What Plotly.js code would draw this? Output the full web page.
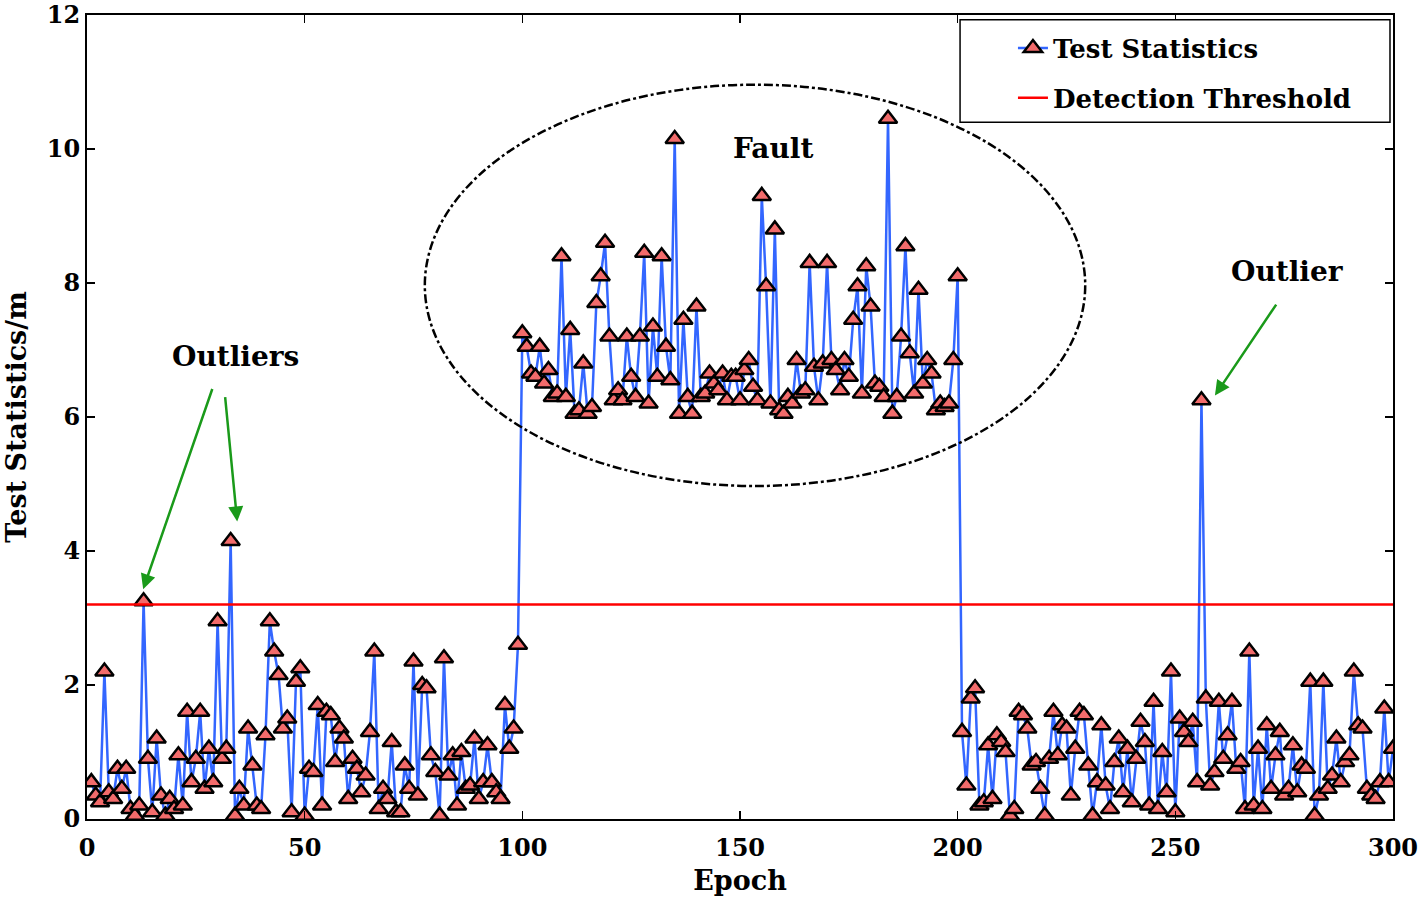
<!DOCTYPE html>
<html>
<head>
<meta charset="utf-8">
<script src="https://cdn.plot.ly/plotly-3.0.1.min.js"></script>
<style>html,body{margin:0;padding:0;background:#fff;}#chart{width:1418px;height:901px;}</style>
</head>
<body>
<div id="chart"></div>
<script>
// Test statistics, epochs 1..300
const stats1 = [0.55,0.35,0.25,2.2,0.4,0.3,0.75,0.45,0.75,0.15,
  0.05,0.2,3.25,0.9,0.1,1.2,0.35,0.05,0.3,0.15,
  0.95,0.2,1.6,0.55,0.9,1.6,0.45,1.05,0.55,2.95,
  0.9,1.05,4.15,0.05,0.45,0.2,1.35,0.8,0.2,0.15,
  1.25,2.95,2.5,2.15,1.35,1.5,0.1,2.05,2.25,0.05,
  0.75,0.7,1.7,0.2,1.6,1.55,0.85,1.35,1.2,0.3,
  0.9,0.75,0.4,0.65,1.3,2.5,0.15,0.45,0.3,1.15,
  0.1,0.1,0.8,0.45,2.35,0.35,2.0,1.95,0.95,0.7,
  0.05,2.4,0.65,0.95,0.2,1.0,0.45,0.5,1.2,0.3,
  0.55,1.1,0.55,0.4,0.3,1.7,1.05,1.35,2.6];
const stats2 = [7.25,7.05,6.65,6.6,7.05,6.5,6.7,6.3,6.35,8.4,
  6.3,7.3,6.05,6.1,6.8,6.05,6.15,7.7,8.1,8.6,
  7.2,6.25,6.4,6.25,7.2,6.6,6.3,7.2,8.45,6.2,
  7.35,6.6,8.4,7.05,6.55,10.15,6.05,7.45,6.3,6.05,
  7.65,6.3,6.35,6.65,6.5,6.4,6.65,6.25,6.6,6.6,
  6.25,6.7,6.85,6.45,6.25,9.3,7.95,6.2,8.8,6.1,
  6.05,6.3,6.2,6.85,6.35,6.4,8.3,6.75,6.25,6.8,
  8.3,6.85,6.7,6.4,6.85,6.6,7.45,7.95,6.35,8.25,
  7.65,6.5,6.45,6.3,10.45,6.05,6.3,7.2,8.55,6.95,
  6.35,7.9,6.5,6.85,6.65,6.1,6.2,6.15,6.2,6.85,8.1];
const stats3 = [1.3,0.5,1.8,1.95,0.2,0.25,1.1,0.3,1.25,1.15,
  1.0,0.05,0.15,1.6,1.55,1.35,0.8,0.85,0.45,0.05,
  0.9,1.6,0.95,1.4,1.35,0.35,1.05,1.6,1.55,0.8,
  0.05,0.55,1.4,0.5,0.15,0.85,1.2,0.4,1.05,0.25,
  0.9,1.45,1.15,0.2,1.75,0.15,1.0,0.4,2.2,0.1,
  1.5,1.3,1.15,1.45,0.55,6.25,1.8,0.5,0.7,1.75,
  0.9,1.25,1.75,0.75,0.85,0.15,2.5,0.2,1.05,0.15,
  1.4,0.45,0.95,1.3,0.35,0.45,1.1,0.4,0.8,0.75,
  2.05,0.05,0.35,2.05,0.45,0.65,1.2,0.55,0.85,0.95,
  2.2,1.4,1.35,0.45,0.35,0.3,0.55,1.65,0.55,1.05];
const testStats = stats1.concat(stats2, stats3);
const epochs = testStats.map((_, i) => i + 1);
const threshold = 3.2;
const thresholdX = [0, 300];
const xTicks = [0, 50, 100, 150, 200, 250, 300];
const yTicks = [0, 2, 4, 6, 8, 10, 12];

const FONT = '"DejaVu Serif", "Liberation Serif", serif';

const traces = [
  {
    x: epochs, y: testStats, type: 'scatter', mode: 'lines+markers',
    name: '<b>Test Statistics</b>', legendgroup: 'a',
    line: {color: '#3366ff', width: 2.5},
    marker: {symbol: 'triangle-up', size: 16, color: '#f26b6b', line: {color: '#000', width: 2.5}}
  },
  {
    x: thresholdX, y: [threshold, threshold], type: 'scatter', mode: 'lines',
    name: '<b>Detection Threshold</b>', legendgroup: 'b',
    line: {color: '#ff0000', width: 2.5}
  }
];

const axisCommon = {
  showline: true, linecolor: '#000', linewidth: 2, mirror: 'ticks',
  ticks: 'inside', ticklen: 8, tickwidth: 1.5, tickcolor: '#000',
  showgrid: false, zeroline: false, ticklabeloverflow: 'allow',
  tickfont: {family: FONT, size: 24, color: '#000', weight: 'bold'}
};

const arrowCommon = {
  xref: 'x', yref: 'y', axref: 'x', ayref: 'y', text: '', showarrow: true,
  arrowhead: 2, arrowsize: 1.2, arrowwidth: 2.5, arrowcolor: '#1a9a1a'
};

const layout = {
  width: 1418, height: 901,
  margin: {l: 87, r: 25, t: 15, b: 82},
  paper_bgcolor: '#fff', plot_bgcolor: '#fff',
  showlegend: true,
  legend: {
    x: 0.709, y: 0.988, xanchor: 'left', yanchor: 'top',
    bgcolor: 'rgba(0,0,0,0)', borderwidth: 0,
    font: {family: FONT, size: 26, color: '#000'},
    traceorder: 'grouped', tracegroupgap: 13
  },
  xaxis: Object.assign({}, axisCommon, {
    range: [0, 300], tickvals: xTicks, ticktext: xTicks.map(String),
    ticklabelstandoff: 6,
    title: {text: '<b>Epoch</b>', font: {family: FONT, size: 27, color: '#000'}, standoff: 10}
  }),
  yaxis: Object.assign({}, axisCommon, {
    range: [0, 12], tickvals: yTicks, ticktext: yTicks.map(String),
    title: {text: '<b>Test Statistics/m</b>', font: {family: FONT, size: 27, color: '#000'}, standoff: 12}
  }),
  shapes: [
    {type: 'rect', xref: 'paper', yref: 'paper', x0: 0.6685, x1: 0.9977, y0: 0.8665, y1: 0.994,
     fillcolor: '#fff', line: {color: '#000', width: 1.5}, layer: 'above'},
    {type: 'circle', xref: 'x', yref: 'y',
     x0: 77.6, x1: 229.3, y0: 4.97, y1: 10.96,
     line: {color: '#000', width: 2.5, dash: 'dashdot'}}
  ],
  annotations: [
    {xref: 'x', yref: 'y', x: 157.5, y: 10.01, text: '<b>Fault</b>', showarrow: false,
     font: {family: FONT, size: 28, color: '#000'}},
    {xref: 'x', yref: 'y', x: 34, y: 6.9, text: '<b>Outliers</b>', showarrow: false,
     font: {family: FONT, size: 28, color: '#000'}},
    {xref: 'x', yref: 'y', x: 275.8, y: 8.17, text: '<b>Outlier</b>', showarrow: false,
     font: {family: FONT, size: 28, color: '#000'}},
    Object.assign({}, arrowCommon, {x: 12.9, y: 3.43, ax: 28.9, ay: 6.44}),
    Object.assign({}, arrowCommon, {x: 34.5, y: 4.44, ax: 31.7, ay: 6.32}),
    Object.assign({}, arrowCommon, {x: 259.1, y: 6.32, ax: 273.4, ay: 7.7})
  ]
};

Plotly.newPlot('chart', traces, layout, {displayModeBar: false, staticPlot: true});
</script>
</body>
</html>
